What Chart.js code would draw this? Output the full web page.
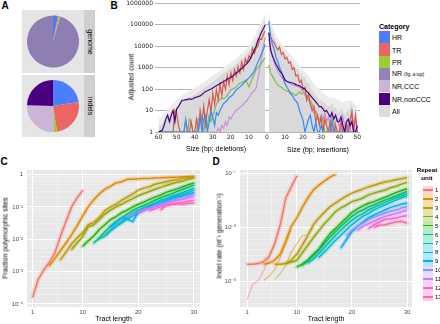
<!DOCTYPE html>
<html>
<head>
<meta charset="utf-8">
<title>Indel spectrum and tract length</title>
<script src="https://cdn.jsdelivr.net/npm/chart.js@4.4.1/dist/chart.umd.min.js"></script>
<style>
  html, body { margin: 0; padding: 0; background: #fff; }
  #fig { position: relative; width: 440px; height: 324px; overflow: hidden;
         font-family: 'Liberation Sans', Arial, sans-serif; }
  #fig canvas, #fig .t, #fig .box { position: absolute; }
  .t { white-space: nowrap; color: #000; line-height: 1; }
</style>
</head>
<body>
<div id="fig"></div>
<script>
// ---------- panel A: pies ----------
const genomeCats = ['HR', 'TR', 'PR', 'NR (fig. a top)'];
const genomeShare = [3, 0.6, 1, 95.4];
const indelCats = ['HR', 'TR', 'PR', 'NR,CCC', 'NR,nonCCC'];
const indelShare = [22.5, 25, 2, 26, 24.5];

// ---------- legend B ----------
const legendCats = ['HR', 'TR', 'PR', 'NR (fig. a top)', 'NR,CCC', 'NR,nonCCC', 'All'];
const catColors = ['#4b7dff', '#ee6464', '#9acd32', '#9683b6', '#cbb4d6', '#4b0082', '#dcdcdc'];

// ---------- panel B: counts per size (index 0 = 1 bp) ----------
const bXTicks = [-60, -50, -40, -30, -20, -10, 0, 10, 20, 30, 40, 50];
const bYTicks = [1, 10, 100, 1000, 10000, 100000, 1000000];

const delAll = [190000,110000,70000,50000,32000,20000,13000,10000,7000,5500,
  4200,3600,2800,2500,2000,1800,1400,1300,1000,950,
  800,750,600,560,450,420,330,320,250,230,
  190,170,140,125,110,95,80,70,62,56,
  50,45,42,40,36,32,32,25,18,14,
  12,12,9,6,7,5,3,2.5,2,2];
const delHR = [12000,7000,4500,2800,1800,1100,700,520,400,330,
  270,220,185,150,125,105,90,70,55,45,
  40,30,25,21,15,10,6,8,2,5,
  9,3,1,6,4,1,5,1,1,1,
  1,1,1,1,4,1,1,1,1,1,
  1,1,1,1,1,1,1,1,1,1];
const delTR = [50000,35000,20000,22000,10000,8000,4500,8000,2800,3500,
  1600,2500,800,1800,560,1100,400,800,250,560,
  160,400,100,220,50,160,32,90,20,63,
  8,32,10,2,16,3,10,1,4,1,
  1,3,1,1,1,1,1,1,2,7,
  10,1,1,1,1,1,1,1,1,1];
const delPR = [2800,2200,1600,1250,1000,800,500,320,200,125,
  200,260,220,200,186,160,125,110,100,90,
  70,50,40,35,40,32,30,20,10,6,
  3,6,2,4,1,2,3,4,1,1,
  1,3,4,1,3,1,1,1,1,1,
  1,1,1,1,1,1,1,1,1,1];
const delCCC = [25000,10000,3200,900,300,110,85,70,55,40,
  30,25,20,16,14,12,10,8,6,4,
  5,2,3,1.5,2,1,1.5,1,1,1,
  1,1,1,1,1,1,1,1,1,1,
  1,1,1,1,1,1,1,1,1,1,
  1,1,1,1,1,1,1,1,1,1];
const delNonCCC = [95000,63000,45000,28000,18000,10000,6300,4200,2800,2000,
  1600,1300,1100,890,760,630,550,480,400,355,
  316,288,251,224,200,178,158,141,126,112,
  100,93,83,76,66,56,48,45,42,40,
  35,33,35,32,32,30,30,22,15,12,
  3,10,6,3,6,4,2,1.2,1.1,1];
const delBandSizes = [1,2,4,6,8,10,14,18,22,26,30,34,38,42,46,50,54,58,60];
const delBand = [350000,200000,90000,40000,19000,10000,4500,2300,1300,750,420,240,140,90,60,30,14,6,4];

const insAll = [250000,70000,40000,25000,15000,10500,11000,6000,6000,3500,
  3800,2300,2300,1300,1450,800,850,560,560,360,
  360,200,200,130,90,70,50,40,28,32,
  24,24,18,16,16,22,12,14,10,8,
  12,10,6,8,10,12,25,5,14,5];
const insHR = [140000,28000,12000,6600,3000,1900,1000,630,300,180,
  120,90,60,50,35,28,21,10,6,3.5,
  1,2,4,6,2,1,3,1,1,2,
  1,1,1,1,1,3,1,1,1,1,
  1,1,1,1,1,1,1,1,1,1];
const insTR = [45000,25000,18000,14000,9000,6600,9000,4000,5000,2500,
  3000,1600,1800,800,1000,400,450,200,250,90,
  120,30,60,20,10,15,3,6,2,5,
  1,4,2,1,3,1,1,2,1,1,
  3,1,1,2,1,4,8,1,6,1];
const insPR = [1300,550,400,280,200,160,130,120,100,90,
  80,75,70,63,55,50,60,75,60,65,
  70,45,32,30,20,12,8,5,4,3,
  4,1,1,1,3,4,3,1,1,1,
  1,1,1,1,1,3,3,1,1,1];
const insCCC = [20000,8000,3500,1800,1000,650,500,370,300,250,
  220,200,170,160,150,140,130,125,100,70,
  50,40,30,20,12,8,10,5,3,6,
  4,8,3,5,2,6,1,3,4,2,
  1,5,2,1,3,1,12,2,4,1];
const insNonCCC = [40000,6300,3500,2200,1400,1000,700,550,400,260,
  230,210,200,190,180,160,150,140,120,110,
  100,80,65,50,40,32,25,20,15,15,
  12,9,10,7,5,8,4,6,3,3,
  5,2,1,3,4,2,3,1,1,2];
const insBandSizes = [1,2,4,6,8,10,14,18,22,26,30,34,38,42,46,50];
const insBand = [400000,150000,50000,22000,13000,8000,3000,1200,500,180,80,45,35,25,30,15];

// ---------- panels C and D ----------
const repeatUnits = [1,2,3,4,5,6,7,8,9,10,11,12,13];
const repeatColors = ['#F8766D','#E18A00','#BE9C00','#8CAB00','#24B700','#00BE70','#00C1AB',
  '#00BBDA','#00ACFC','#8B93FF','#D575FE','#F962DD','#FF65AC'];
const cdXTicks = [1, 10, 20, 30];
const cdXGrid = [1, 5.5, 10, 15, 20, 25, 30];
const cYTicks = [1e-4, 1e-3, 1e-2, 1e-1, 1];
const cYTickLabels = ['10⁻⁴', '10⁻³', '10⁻²', '10⁻¹', '1'];
const dYTicks = [1e-9, 1e-8, 1e-7];
const dYTickLabels = ['10⁻⁹', '10⁻⁸', '10⁻⁷'];

// first tract length of each repeat unit, then the values from there on
const cStart = [1, 4, 6, 8, 10, 12, 13, 14, 15, 18, 20, 22, 24];
const cFraction = [
  [1.6e-4,5.6e-4,1.1e-3,1.9e-3,3.8e-3,1.2e-2,3.5e-2,9.8e-2,0.19,0.32],
  [1.5e-3,2.5e-3,4.4e-3,7.6e-3,1.35e-2,2.6e-2,5.2e-2,0.1,0.166,0.25,0.355,0.43,0.55,0.6,0.71,0.72,0.74,0.76,0.76,0.78,0.79,0.81,0.83,0.83,0.85,0.87,0.87],
  [2.3e-3,4.0e-3,7.1e-3,1.1e-2,1.6e-2,2.8e-2,3.3e-2,4.8e-2,7.6e-2,0.1,0.12,0.16,0.2,0.25,0.33,0.38,0.42,0.5,0.55,0.6,0.65,0.69,0.76,0.81,0.85],
  [4.8e-3,7.6e-3,1.2e-2,2.4e-2,2.75e-2,4.0e-2,6.0e-2,7.9e-2,0.1,0.12,0.15,0.18,0.22,0.26,0.3,0.35,0.4,0.46,0.52,0.58,0.63,0.71,0.78],
  [6.0e-3,8.9e-3,1.26e-2,2.0e-2,2.8e-2,4.0e-2,5.0e-2,6.6e-2,7.9e-2,0.1,0.12,0.14,0.17,0.2,0.23,0.28,0.32,0.36,0.42,0.48,0.55],
  [7.6e-3,1.1e-2,1.7e-2,2.5e-2,3.5e-2,4.5e-2,6.0e-2,7.6e-2,9.5e-2,0.11,0.13,0.16,0.19,0.22,0.25,0.3,0.35,0.4,0.47],
  [1.0e-2,1.3e-2,1.9e-2,2.6e-2,3.5e-2,4.8e-2,6.3e-2,7.9e-2,9.5e-2,0.11,0.13,0.16,0.18,0.21,0.24,0.28,0.32,0.38],
  [1.26e-2,1.8e-2,2.5e-2,3.2e-2,4.2e-2,5.2e-2,6.6e-2,8.3e-2,0.1,0.12,0.14,0.17,0.19,0.22,0.25,0.28,0.33],
  [2.4e-2,3.2e-2,4.6e-2,4.2e-2,3.5e-2,6.9e-2,8.3e-2,0.1,0.115,0.13,0.15,0.17,0.2,0.22,0.25,0.28],
  [5.0e-2,6.0e-2,7.2e-2,8.3e-2,9.5e-2,0.11,0.126,0.14,0.16,0.18,0.2,0.22,0.25],
  [6.3e-2,7.6e-2,8.7e-2,0.1,0.11,0.126,0.14,0.16,0.17,0.19,0.21],
  [7.6e-2,8.7e-2,0.1,0.11,0.12,0.13,0.14,0.15,0.16],
  [8.1e-2,0.11,0.12,0.125,0.12,0.13,0.13]
];
const dStart = [1, 4, 6, 8, 10, 11, 12, 14, 18, 19, 21, 23, 24];
const dRate = [
  [2.1e-9,2.1e-9,2.15e-9,2.35e-9,2.95e-9,5.0e-9,1.12e-8,3.5e-8,5.6e-8,8.9e-8],
  [2.1e-9,2.2e-9,2.5e-9,3.2e-9,5.6e-9,1.05e-8,1.5e-8,2.35e-8,3.5e-8,4.9e-8,6.0e-8,7.2e-8,8.5e-8,9.5e-8],
  [2.1e-9,2.1e-9,2.15e-9,2.5e-9,3.2e-9,4.7e-9,7.1e-9,1.12e-8,1.5e-8,1.9e-8,2.4e-8,2.8e-8,3.3e-8,3.8e-8,4.3e-8,4.7e-8,5.1e-8,5.6e-8,6.0e-8,6.5e-8,6.9e-8,7.2e-8,7.6e-8,7.9e-8,8.3e-8],
  [2.15e-9,2.3e-9,2.45e-9,3.4e-9,4.7e-9,6.5e-9,8.7e-9,1.17e-8,1.5e-8,1.95e-8,2.3e-8,2.6e-8,3.0e-8,3.2e-8,3.5e-8,4.0e-8,4.3e-8,4.6e-8,4.9e-8,5.4e-8,5.75e-8,6.3e-8,6.8e-8],
  [1.86e-9,2.1e-9,2.5e-9,3.2e-9,4.0e-9,5.6e-9,7.6e-9,9.5e-9,1.2e-8,1.5e-8,1.9e-8,2.2e-8,2.5e-8,2.8e-8,3.0e-8,3.3e-8,3.6e-8,4.0e-8,4.4e-8,4.8e-8,5.2e-8],
  [2.0e-9,2.4e-9,3.0e-9,3.8e-9,5.0e-9,6.6e-9,8.3e-9,1.05e-8,1.3e-8,1.6e-8,1.9e-8,2.1e-8,2.4e-8,2.6e-8,2.9e-8,3.2e-8,3.5e-8,3.8e-8,4.2e-8,4.6e-8],
  [2.2e-9,2.6e-9,3.3e-9,4.2e-9,5.5e-9,7.1e-9,8.9e-9,1.12e-8,1.35e-8,1.6e-8,1.8e-8,2.1e-8,2.35e-8,2.6e-8,2.9e-8,3.2e-8,3.5e-8,3.8e-8,4.2e-8],
  [2.8e-9,3.5e-9,4.5e-9,5.75e-9,7.2e-9,9.1e-9,1.12e-8,1.35e-8,1.6e-8,1.8e-8,2.1e-8,2.35e-8,2.6e-8,2.9e-8,3.2e-8,3.5e-8,3.8e-8],
  [4.2e-9,6.0e-9,8.3e-9,1.05e-8,1.26e-8,1.5e-8,1.7e-8,1.9e-8,2.1e-8,2.35e-8,2.5e-8,2.7e-8,2.8e-8],
  [7.1e-9,8.9e-9,1.05e-8,1.2e-8,1.4e-8,1.55e-8,1.7e-8,1.85e-8,2.0e-8,2.1e-8,2.3e-8,2.4e-8],
  [8.9e-9,1.05e-8,1.17e-8,1.3e-8,1.45e-8,1.6e-8,1.7e-8,1.8e-8,1.95e-8,2.1e-8],
  [9.5e-9,1.12e-8,1.26e-8,1.4e-8,1.45e-8,1.5e-8,1.6e-8,1.65e-8],
  [1.0e-8,1.1e-8,1.12e-8,1.2e-8,1.26e-8,1.3e-8,1.2e-8]
];
// second, paler estimate for the short tracts of units 1-3
const dPaleStart = [1, 4, 6];
const dPaleRate = [
  [4.7e-10,8.9e-10,1.05e-9,1.6e-9,2.8e-9,5.0e-9],
  [1.05e-9,1.26e-9,1.66e-9,2.8e-9,5.0e-9,8.9e-9],
  [1.1e-9,1.4e-9,2.0e-9,3.5e-9,5.0e-9,7.1e-9,7.1e-9,1.0e-8]
];

// ---------- helpers ----------
const fig = document.getElementById('fig');
Chart.defaults.font.family = "'Liberation Sans', Arial, sans-serif";
Chart.defaults.animation = false;

function box(x, y, w, h, bg) {
  const d = document.createElement('div');
  d.className = 'box';
  Object.assign(d.style, {left: x + 'px', top: y + 'px', width: w + 'px', height: h + 'px', background: bg});
  fig.appendChild(d);
  return d;
}
function canvasAt(x, y, w, h) {
  const c = document.createElement('canvas');
  c.width = w; c.height = h;
  Object.assign(c.style, {left: x + 'px', top: y + 'px', width: w + 'px', height: h + 'px'});
  fig.appendChild(c);
  return c;
}
function put(html, x, y, size, opt) {
  opt = opt || {};
  const d = document.createElement('div');
  d.className = 't';
  d.innerHTML = html;
  d.style.left = x + 'px';
  d.style.top = y + 'px';
  d.style.fontSize = size + 'px';
  if (opt.bold) d.style.fontWeight = 'bold';
  if (opt.color) d.style.color = opt.color;
  let tr = opt.anchor === 'left' ? 'translate(0,-50%)' : 'translate(-50%,-50%)';
  if (opt.rot) tr += ' rotate(' + opt.rot + 'deg)';
  d.style.transform = tr;
  fig.appendChild(d);
  return d;
}
function hexA(hex, a) {
  const n = parseInt(hex.slice(1), 16);
  return 'rgba(' + (n >> 16) + ',' + ((n >> 8) & 255) + ',' + (n & 255) + ',' + a + ')';
}
const bySize = (vals, sign) => vals.map((v, i) => ({x: sign * (i + 1), y: v}));
const atSizes = (sizes, vals, sign) => sizes.map((s, i) => ({x: sign * s, y: vals[i]}));
const fromStart = (start, vals) => vals.map((v, i) => ({x: start + i, y: v}));
const isDecade = v => Math.abs(Math.log10(v) - Math.round(Math.log10(v))) < 1e-6;

// grey ggplot panel behind the plot area
const panelBg = {
  id: 'panelBg',
  beforeDraw(chart, args, opts) {
    if (!opts.color) return;
    const a = chart.chartArea, ctx = chart.ctx;
    ctx.save();
    ctx.fillStyle = opts.color;
    ctx.fillRect(a.left, a.top, a.right - a.left, a.bottom - a.top);
    ctx.restore();
  }
};

// ---------- text ----------
put('A', 5, 6, 10, {bold: true});
put('B', 114, 6, 10, {bold: true});
put('C', 4, 162, 10, {bold: true});
put('D', 216, 162, 10, {bold: true});

// ---------- panel A ----------
box(22, 10, 62, 63, '#e5e5e5');
box(84, 10, 11, 63, '#cfcfcf');
box(22, 75, 62, 62, '#e5e5e5');
box(84, 75, 11, 62, '#cfcfcf');
put('genome', 89.5, 41.5, 7, {rot: 90});
put('indels', 89.5, 106, 7, {rot: 90});

function pie(canvas, labels, values, colors) {
  return new Chart(canvas, {
    type: 'pie',
    data: {labels: labels, datasets: [{data: values, backgroundColor: colors, borderWidth: 0}]},
    options: {responsive: false, layout: {padding: 5},
      plugins: {legend: {display: false}, tooltip: {enabled: false}}}
  });
}
pie(canvasAt(22, 10, 62, 63), genomeCats, genomeShare,
  [catColors[0], catColors[1], catColors[2], '#8f7eb1']);
pie(canvasAt(22, 75, 62, 62), indelCats, indelShare,
  [catColors[0], catColors[1], catColors[2], catColors[4], catColors[5]]);

// ---------- panel B ----------
const lineHR = '#2f8cff', lineTR = '#d65a4e', linePR = '#8ab84a', lineCCC = '#c98fdc', lineNon = '#4b0082';
function bLine(data, color, order) {
  return {data: data, borderColor: color, borderWidth: 1.2, pointRadius: 0, fill: false, order: order};
}
function bArea(data, color, order, tension) {
  return {data: data, borderColor: 'rgba(0,0,0,0)', backgroundColor: color, borderWidth: 1,
    pointRadius: 0, fill: 'start', order: order, tension: tension || 0};
}
const bSets = [];
[[-1, delBandSizes, delBand, delAll, delCCC, delPR, delTR, delHR, delNonCCC],
 [1, insBandSizes, insBand, insAll, insCCC, insPR, insTR, insHR, insNonCCC]].forEach(s => {
  const sg = s[0];
  bSets.push(bArea(atSizes(s[1], s[2], sg), '#ececec', 20, 0.3));
  bSets.push(bArea(bySize(s[3], sg), '#d9d9d9', 19));
  bSets.push(bLine(bySize(s[4], sg), lineCCC, 6));
  bSets.push(bLine(bySize(s[5], sg), linePR, 5));
  bSets.push(bLine(bySize(s[6], sg), lineTR, 4));
  bSets.push(bLine(bySize(s[7], sg), lineHR, 3));
  bSets.push(bLine(bySize(s[8], sg), lineNon, 2));
});
const tickFontB = {family: "'DejaVu Sans', sans-serif", size: 6};
new Chart(canvasAt(118, 0, 246, 150), {
  type: 'line',
  data: {datasets: bSets},
  options: {
    responsive: false,
    layout: {padding: {top: 3, right: 4, left: 0, bottom: 0}},
    plugins: {legend: {display: false}, tooltip: {enabled: false}},
    scales: {
      x: {
        type: 'linear', min: -62, max: 51.5,
        afterBuildTicks: s => { s.ticks = bXTicks.map(v => ({value: v})); },
        afterFit: s => { s.height = 18; s.paddingLeft = 0; s.paddingRight = 0; },
        grid: {display: false, drawTicks: false}, border: {display: false},
        ticks: {callback: v => String(Math.abs(v)), font: tickFontB, color: '#1a1a1a',
          padding: 2, maxRotation: 0, autoSkip: false}
      },
      y: {
        type: 'logarithmic', min: 1, max: 1000000,
        afterBuildTicks: s => { s.ticks = bYTicks.map(v => ({value: v})); },
        afterFit: s => { s.width = 37; s.paddingTop = 0; s.paddingBottom = 0; },
        grid: {color: '#b3b3b3', lineWidth: 1, drawTicks: false}, border: {display: false},
        ticks: {callback: v => String(v), font: tickFontB, color: '#1a1a1a', padding: 2, autoSkip: false}
      }
    }
  }
});
put('Adjusted count', 131, 77, 7, {rot: -90});
put('Size (bp; deletions)', 216, 148, 7);
put('Size (bp; insertions)', 318, 149, 7);

// legend B
put('Category', 379, 26, 7, {bold: true, anchor: 'left'});
legendCats.forEach((name, i) => {
  box(379, 31 + i * 12.3, 11, 12.3, catColors[i]);
  const txt = name.indexOf(' (') > 0
    ? name.split(' (')[0] + ' <span style="font-size:4.5px">(' + name.split(' (')[1] + '</span>'
    : name;
  put(txt, 392, 37.2 + i * 12.3, 7, {anchor: 'left'});
});

// ---------- panels C and D ----------
function unitSets(starts, vals, paleStarts, paleVals) {
  const sets = [];
  vals.forEach((v, i) => {
    const c = repeatColors[i];
    sets.push({data: fromStart(starts[i], v), borderColor: hexA(c, 0.22), borderWidth: 4.5,
      borderCapStyle: 'round', borderJoinStyle: 'round', pointRadius: 0, order: 80 - i});
    sets.push({data: fromStart(starts[i], v), borderColor: c, borderWidth: 1.5,
      borderJoinStyle: 'round', pointRadius: 0, order: 40 - i});
  });
  (paleVals || []).forEach((v, i) => {
    sets.push({data: fromStart(paleStarts[i], v), borderColor: hexA(repeatColors[i], 0.5),
      borderWidth: 1.2, pointRadius: 0, order: 60 - i});
  });
  return sets;
}
function cdOptions(yMin, yMax, yTicks, yLabels, xMin, xMax, yWidth, padRight) {
  const tickFont = {size: 6};
  return {
    responsive: false,
    layout: {padding: {top: 10, right: padRight, left: 0, bottom: 0}},
    plugins: {legend: {display: false}, tooltip: {enabled: false}, panelBg: {color: '#e8e8e8'}},
    scales: {
      x: {
        type: 'linear', min: xMin, max: xMax,
        afterBuildTicks: s => { s.ticks = cdXGrid.map(v => ({value: v})); },
        afterFit: s => { s.height = 17; s.paddingLeft = 0; s.paddingRight = 0; },
        grid: {color: c => cdXTicks.includes(c.tick.value) ? '#ffffff' : 'rgba(255,255,255,0.6)',
          lineWidth: c => cdXTicks.includes(c.tick.value) ? 1 : 0.5, drawTicks: false},
        border: {display: false},
        ticks: {callback: v => cdXTicks.includes(v) ? String(v) : '', font: tickFont,
          color: '#4d4d4d', padding: 2, maxRotation: 0, autoSkip: false}
      },
      y: {
        type: 'logarithmic', min: yMin, max: yMax,
        afterBuildTicks: s => {
          const out = [];
          for (let e = Math.floor(Math.log10(yMin)); e <= Math.ceil(Math.log10(yMax)); e++) {
            for (let m = 1; m <= 9; m++) {
              const v = m * Math.pow(10, e);
              if (v >= yMin && v <= yMax) out.push({value: v});
            }
          }
          s.ticks = out;
        },
        afterFit: s => { s.width = yWidth; s.paddingTop = 0; s.paddingBottom = 0; },
        grid: {color: c => isDecade(c.tick.value) ? '#ffffff' : 'rgba(255,255,255,0.55)',
          lineWidth: c => isDecade(c.tick.value) ? 1 : 0.5, drawTicks: false},
        border: {display: false},
        ticks: {
          callback: v => {
            if (!isDecade(v)) return '';
            const k = Math.round(Math.log10(v));
            const idx = yTicks.findIndex(t => Math.round(Math.log10(t)) === k);
            return idx >= 0 ? yLabels[idx] : '';
          },
          font: tickFont, color: '#4d4d4d', padding: 4, autoSkip: false
        }
      }
    }
  };
}
new Chart(canvasAt(0, 160, 215, 164), {
  type: 'line',
  data: {datasets: unitSets(cStart, cFraction)},
  options: cdOptions(8e-5, 1.38, cYTicks, cYTickLabels, 0, 31.1, 27, 15),
  plugins: [panelBg]
});
new Chart(canvasAt(215, 160, 200, 164), {
  type: 'line',
  data: {datasets: unitSets(dStart, dRate, dPaleStart, dPaleRate)},
  options: cdOptions(3.4e-10, 1.15e-7, dYTicks, dYTickLabels, -0.3, 30.9, 25, 3),
  plugins: [panelBg]
});
put('Tract length', 113.5, 318, 7);
put('Tract length', 326, 318, 7);
put('Fraction polymorphic sites', 5, 238, 7, {rot: -90});
put('Indel rate (nt⁻¹ generation⁻¹)', 219, 236, 7, {rot: -90});

// legend D
put('Repeat', 427, 170, 6.2, {bold: true});
put('unit', 427, 177.5, 6.2, {bold: true});
repeatUnits.forEach((u, i) => {
  const y = 190 + i * 8.9;
  box(423, y - 4.45, 10, 8.9, hexA(repeatColors[i], 0.3));
  box(423, y - 0.75, 10, 1.5, repeatColors[i]);
  put(String(u), 435, y, 6, {anchor: 'left'});
});
</script>
</body>
</html>
